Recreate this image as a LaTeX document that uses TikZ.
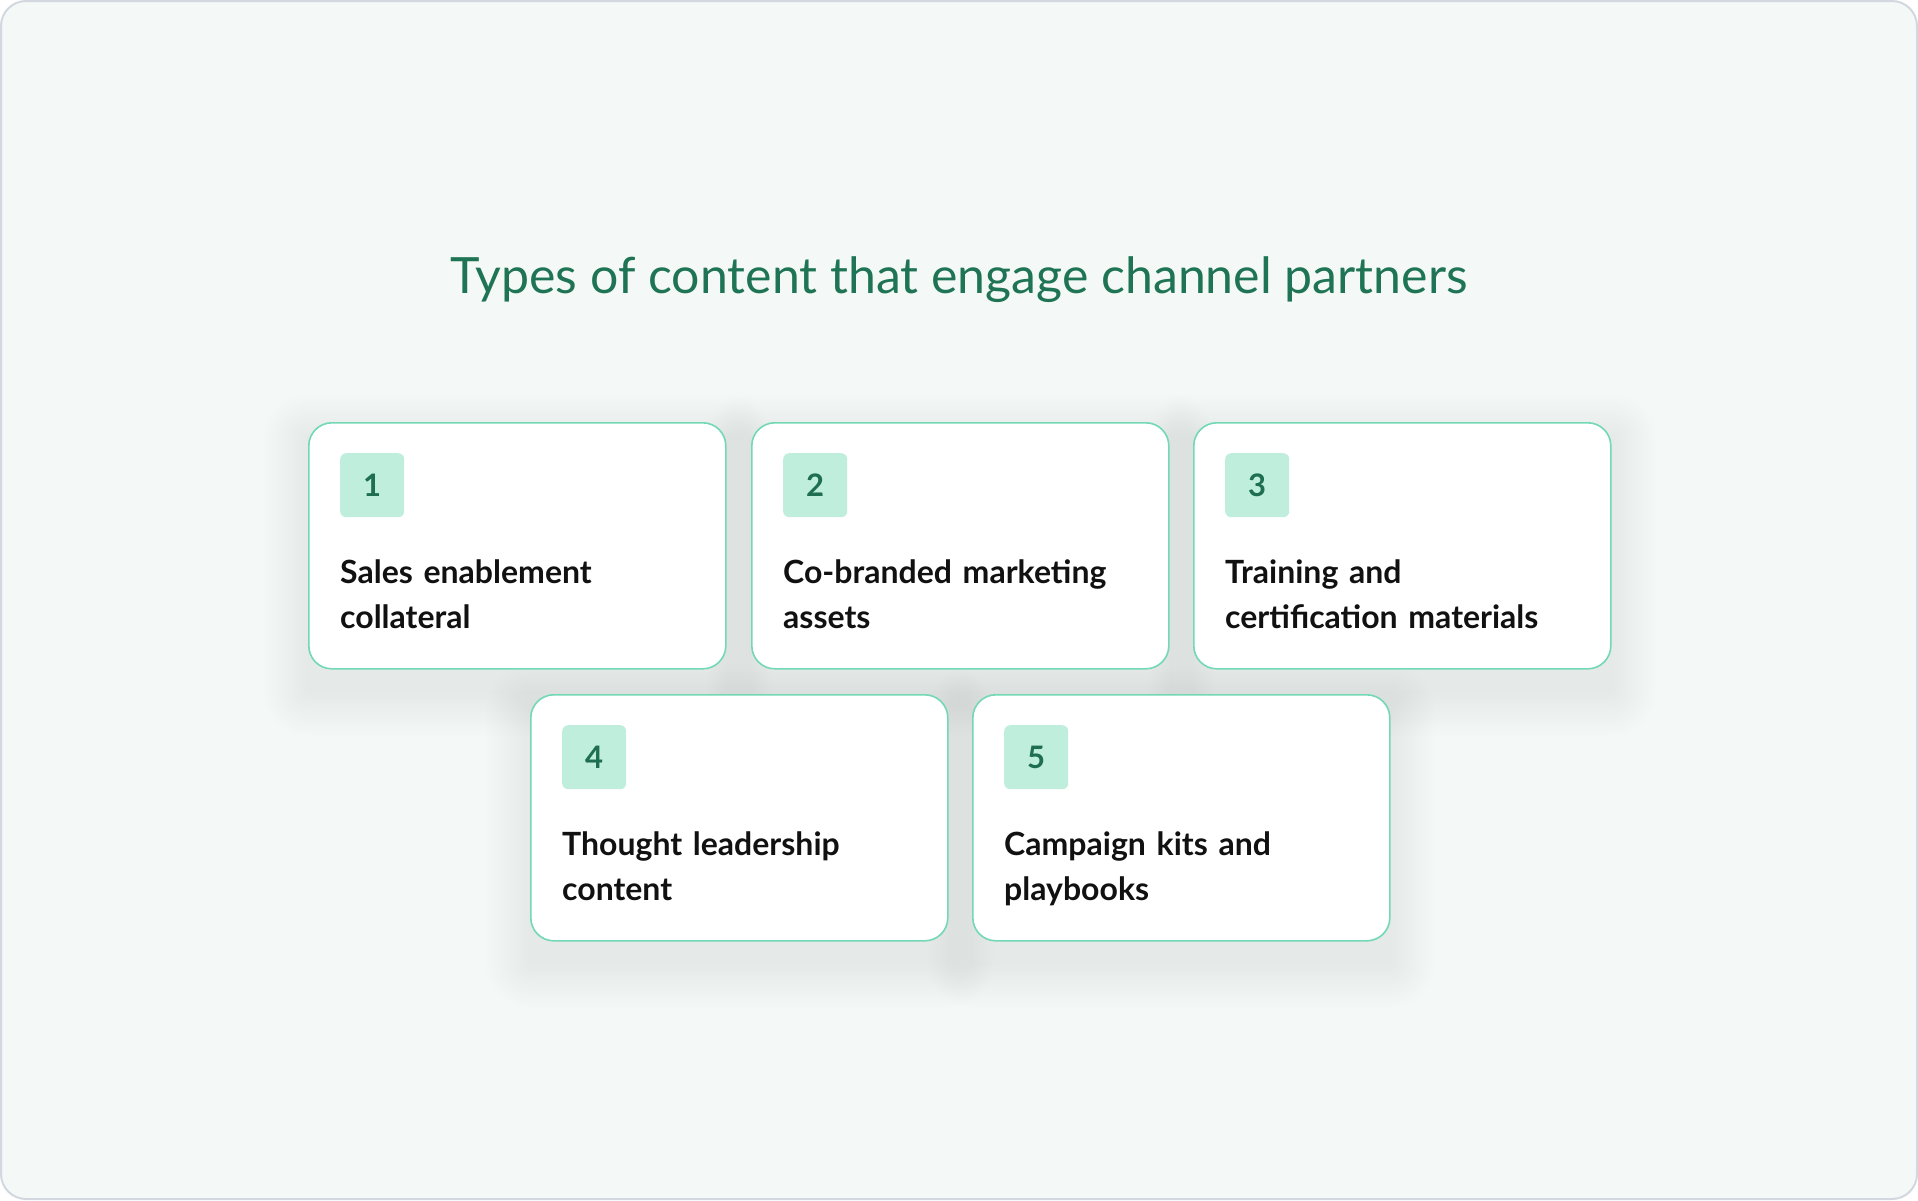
\documentclass[tikz,border=0pt]{standalone}
\usepackage{fontspec}
\setmainfont{Lato}
\usetikzlibrary{positioning}

\definecolor{panelbg}{HTML}{F4F8F6}
\definecolor{panelline}{HTML}{D3D8E0}
\definecolor{cardline}{HTML}{72D9B4}
\definecolor{badgefill}{HTML}{C0EEDD}
\definecolor{badgetext}{HTML}{1E6E50}
\definecolor{titlegreen}{HTML}{1E7455}
\definecolor{cardink}{HTML}{111111}
\definecolor{shadetint}{HTML}{5C9A7C}

\pgfdeclarelayer{back}
\pgfdeclarelayer{shade}
\pgfsetlayers{back,shade,main}

\tikzset{
  framebox/.style={draw=panelline, line width=2pt, fill=panelbg, rounded corners=25pt},
  headline/.style={anchor=base, inner sep=0pt, text=titlegreen, font=\fontsize{50}{60}\selectfont},
  card/.style={draw=cardline, line width=1.6pt, fill=white, rounded corners=23pt,
    minimum width=417pt, minimum height=246pt, inner sep=0pt, anchor=north west},
  cardshade/.style={fill=shadetint, opacity=0.0042},
  badge/.style={fill=badgefill, rounded corners=6pt, minimum size=64pt, inner sep=0pt,
    text=badgetext, font=\fontsize{31}{31}\selectfont\bfseries},
  cardtext/.style={anchor=base west, align=left, inner sep=0pt, text width=370pt,
    text=cardink, font=\fontsize{32}{45}\selectfont\bfseries}
}

\begin{document}
\begin{tikzpicture}[x=1pt,y=-1pt]
  \useasboundingbox (0,0) rectangle (1918,1200);
  \begin{pgfonlayer}{back}
    \draw[framebox] (1,1) rectangle (1917,1199);
  \end{pgfonlayer}

  % title
  \node[headline] (head) at (959,293) {Types of content that engage channel partners};

  % first row
  \node[card] (c1) at (308,422) {};
  \node[card] (c2) at (751,422) {};
  \node[card] (c3) at (1193,422) {};
  % second row
  \node[card] (c4) at (530,694) {};
  \node[card] (c5) at (972,694) {};

  % soft shadows under the cards
  \begin{pgfonlayer}{shade}
    \foreach \c in {c1,c2,c3,c4,c5}
      \foreach \s [evaluate=\s as \r using 30+\s] in {2,5,...,44}
        \fill[cardshade, rounded corners=\r pt]
          ([xshift=-\s pt, yshift=-16pt+\s pt]\c.north west) rectangle
          ([xshift=\s pt, yshift=-22pt-\s pt]\c.south east);
  \end{pgfonlayer}

  % number badges
  \node[badge, below right=31pt and 32pt of c1.north west] (b1) {1};
  \node[badge, below right=31pt and 32pt of c2.north west] (b2) {2};
  \node[badge, below right=31pt and 32pt of c3.north west] (b3) {3};
  \node[badge, below right=31pt and 32pt of c4.north west] (b4) {4};
  \node[badge, below right=31pt and 32pt of c5.north west] (b5) {5};

  % card texts
  \node[cardtext] (t1) at ([xshift=32pt, yshift=-161pt]c1.north west) {Sales enablement\\collateral};
  \node[cardtext] (t2) at ([xshift=32pt, yshift=-161pt]c2.north west) {Co-branded marketing\\assets};
  \node[cardtext] (t3) at ([xshift=32pt, yshift=-161pt]c3.north west) {Training and\\certification materials};
  \node[cardtext] (t4) at ([xshift=32pt, yshift=-161pt]c4.north west) {Thought leadership\\content};
  \node[cardtext] (t5) at ([xshift=32pt, yshift=-161pt]c5.north west) {Campaign kits and\\playbooks};
\end{tikzpicture}
\end{document}
